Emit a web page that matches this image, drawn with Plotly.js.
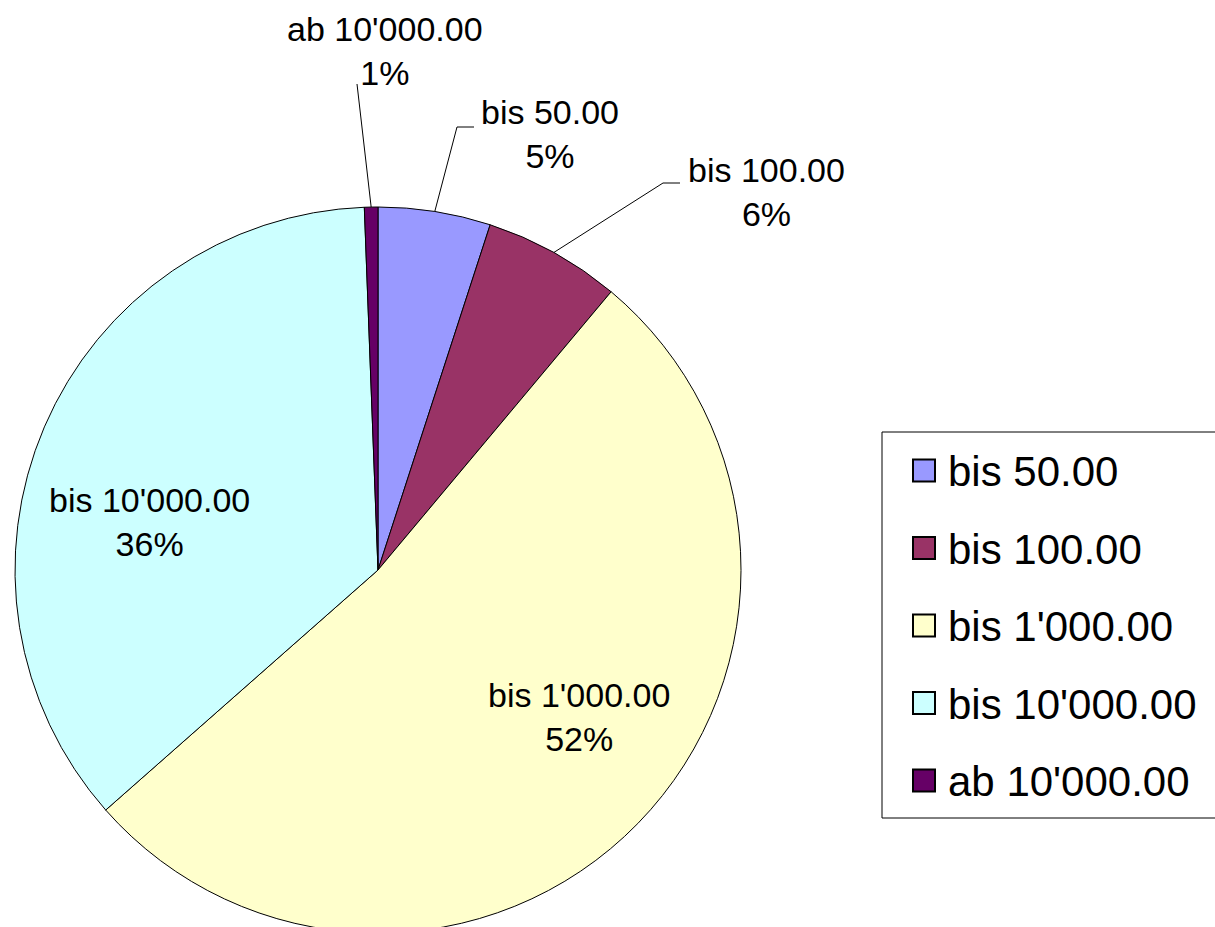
<!DOCTYPE html>
<html><head><meta charset="utf-8">
<script src="https://cdn.plot.ly/plotly-3.0.1.min.js"></script>
<style>html,body{margin:0;padding:0;overflow:hidden;background:#fff}</style>
</head><body><div id="chart" style="width:1215px;height:945px"></div>
<script>
// ---- data ----
const labels = ["bis 50.00", "bis 100.00", "bis 1'000.00", "bis 10'000.00", "ab 10'000.00"];
const values = [5.0, 6.1, 52.4, 35.9, 0.6];
const colors = ['#9999FF', '#993366', '#FFFFCC', '#CCFFFF', '#660066'];

// ---- layout geometry (pixels) ----
const W = 1215, H = 945;
const CX = 378, CY = 570, R = 363;
const labelPos = [[550, 134], [766, 192], [579, 717], [149, 522], [385, 51]];
const leaderPts = [[[457, 127], [474, 127]], [[663, 183], [680, 183]], null, null, [[357, 84]]];
const legendBox = {x0: 882, x1: 1225, y0: 432, y1: 818};
const legendTop = 470.5, legendStep = 77.5, legendSq = 22, legendSqX = 913, legendTextX = 946;
const FONT = 'Liberation Sans, Arial, sans-serif';

const px = x => x / W;
const py = y => 1 - y / H;

const total = values.reduce((a, b) => a + b, 0);
let cum = 0;
const annotations = [];
const shapes = [];
values.forEach((v, i) => {
  const a0 = cum / total * 360;
  cum += v;
  const a1 = cum / total * 360;
  const mid = (a0 + a1) / 2 * Math.PI / 180;
  const pct = Math.round(v / total * 100);
  annotations.push({
    xref: 'paper', yref: 'paper', x: px(labelPos[i][0]), y: py(labelPos[i][1]),
    xanchor: 'center', yanchor: 'middle', showarrow: false, align: 'center',
    text: labels[i] + '<br>' + pct + '%',
    font: {family: FONT, size: 34, color: '#000'}
  });
  if (leaderPts[i]) {
    const ax = CX + R * Math.sin(mid), ay = CY - R * Math.cos(mid);
    let path = 'M' + px(ax) + ',' + py(ay);
    leaderPts[i].forEach(p => { path += ' L' + px(p[0]) + ',' + py(p[1]); });
    shapes.push({type: 'path', xref: 'paper', yref: 'paper', path: path,
      line: {color: '#000', width: 1}});
  }
});

// legend frame
shapes.push({type: 'rect', xref: 'paper', yref: 'paper',
  x0: px(legendBox.x0), x1: px(legendBox.x1), y0: py(legendBox.y1), y1: py(legendBox.y0),
  line: {color: '#000', width: 1}, fillcolor: 'rgba(0,0,0,0)'});
// legend entries (drawn from the labels and colors arrays)
labels.forEach((lab, i) => {
  const cy = legendTop + i * legendStep;
  shapes.push({type: 'rect', xref: 'paper', yref: 'paper',
    x0: px(legendSqX), x1: px(legendSqX + legendSq),
    y0: py(cy + legendSq / 2), y1: py(cy - legendSq / 2),
    fillcolor: colors[i], line: {color: '#000', width: 2}});
  annotations.push({xref: 'paper', yref: 'paper', x: px(legendTextX), y: py(cy + 1),
    xanchor: 'left', yanchor: 'middle', showarrow: false, text: lab,
    font: {family: FONT, size: 42, color: '#000'}});
});

const trace = {
  type: 'pie',
  labels: labels,
  values: values,
  sort: false,
  direction: 'clockwise',
  rotation: 0,
  marker: {colors: colors, line: {color: '#000', width: 1}},
  textinfo: 'none',
  hoverinfo: 'label+percent',
  showlegend: false,
  domain: {x: [px(CX - R), px(CX + R)], y: [py(CY + R), py(CY - R)]}
};

const layout = {
  width: W, height: H,
  margin: {l: 0, r: 0, t: 0, b: 0},
  paper_bgcolor: '#fff',
  showlegend: false,
  annotations: annotations,
  shapes: shapes
};

Plotly.newPlot('chart', [trace], layout, {displayModeBar: false, staticPlot: true});
</script></body></html>
